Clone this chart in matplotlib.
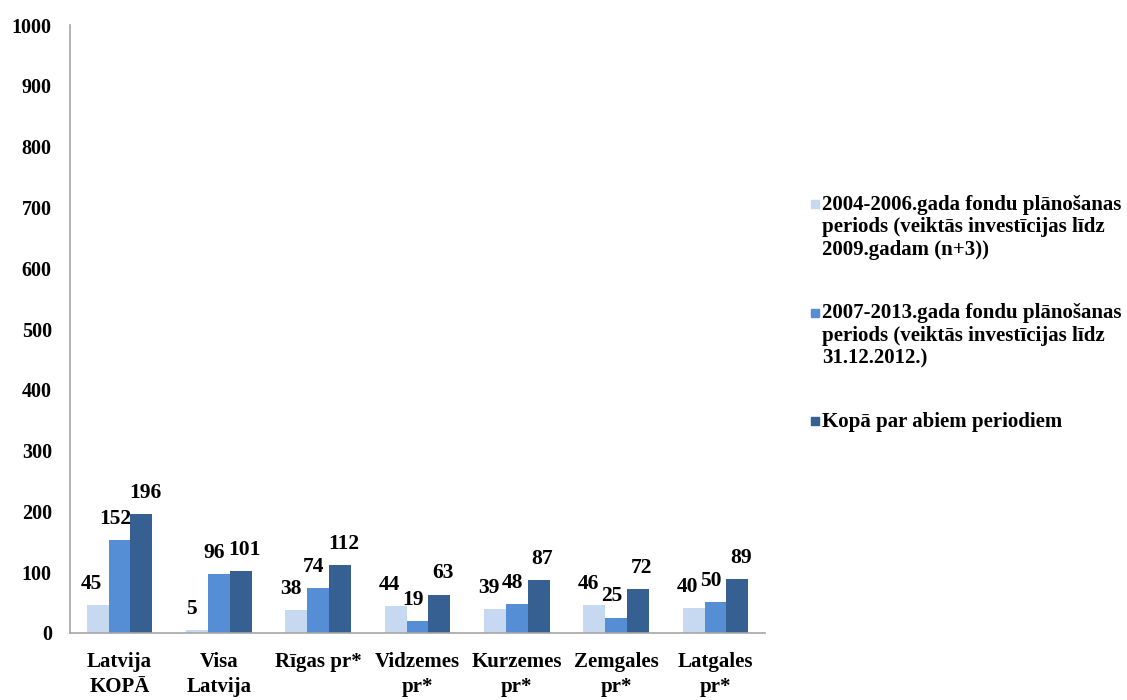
import matplotlib.pyplot as plt
from matplotlib.patches import Rectangle
import numpy as np

plt.rcParams['font.family'] = ['Liberation Serif', 'DejaVu Serif']
plt.rcParams['font.weight'] = 'bold'

# data
categories = ["Latvija\nKOPĀ", "Visa\nLatvija", "Rīgas pr*", "Vidzemes\npr*",
              "Kurzemes\npr*", "Zemgales\npr*", "Latgales\npr*"]
period_2004 = [45, 5, 38, 44, 39, 46, 40]
period_2007 = [152, 96, 74, 19, 48, 25, 50]
total = [196, 101, 112, 63, 87, 72, 89]
series_labels = [
    "2004-2006.gada fondu plānošanas\nperiods (veiktās investīcijas līdz\n2009.gadam (n+3))",
    "2007-2013.gada fondu plānošanas\nperiods (veiktās investīcijas līdz\n31.12.2012.)",
    "Kopā par abiem periodiem",
]
colors = ['#C6D9F1', '#558ED5', '#376092']

fig = plt.figure(figsize=(11.27, 7), dpi=100)
ax = fig.add_axes([0.062, 0.096, 0.617, 0.868])

x = np.arange(len(categories))
w = 0.22
label_dx = [-4.2, -3.2, 2.6]  # small nudges so neighbouring labels don't collide
for i, (vals, col) in enumerate(zip([period_2004, period_2007, total], colors)):
    pos = x + (i - 1) * w
    ax.bar(pos, vals, width=w, color=col)
    for p, v in zip(pos, vals):
        ax.annotate(str(v), (p, v), xytext=(label_dx[i], 8), textcoords='offset points',
                    ha='center', va='bottom', fontsize=15.5, fontweight='bold')

ax.set_xlim(-0.5, len(categories) - 0.5)
ax.set_ylim(0, 1000)
ax.set_yticks(range(0, 1001, 100))
ax.set_xticks(x)
ax.set_xticklabels(categories, fontsize=15, fontweight='bold', linespacing=1.3)
ax.tick_params(axis='y', labelsize=14.5, length=0, pad=13)
ax.tick_params(axis='x', length=0, pad=14)
for lbl in ax.get_yticklabels():
    lbl.set_fontweight('bold')
for s in ['top', 'right']:
    ax.spines[s].set_visible(False)
for s in ['left', 'bottom']:
    ax.spines[s].set_color('#A6A6A6')
    ax.spines[s].set_linewidth(1.2)

# legend drawn by hand so the square sits at the first line of each entry
W, H = 1127.0, 700.0
for i, (lab, col) in enumerate(zip(series_labels, colors)):
    top = 195 + 108.5 * i
    fig.text(822 / W, 1 - top / H, lab, ha='left', va='top', fontsize=15,
             fontweight='bold', linespacing=1.15)
    fig.patches.append(Rectangle((811 / W, 1 - (top + 13) / H), 8 / W, 8 / H,
                                 transform=fig.transFigure, color=col))

fig.savefig('out.png', dpi=100)
